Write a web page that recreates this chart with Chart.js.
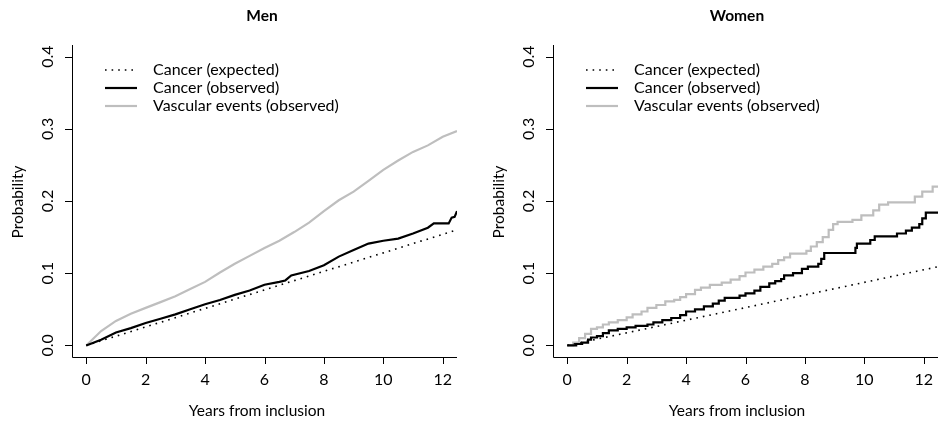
<!DOCTYPE html>
<html>
<head>
<meta charset="utf-8">
<script src="https://cdn.jsdelivr.net/npm/chart.js@4.4.1/dist/chart.umd.min.js"></script>
<style>
  html, body { margin: 0; padding: 0; background: #fff; }
  #wrap { position: relative; width: 938px; height: 421px; overflow: hidden; }
  .panel { position: absolute; top: 0; width: 481px; height: 421px; }
</style>
</head>
<body>
<div id="wrap">
  <div class="panel" style="left:0"><canvas id="men" width="481" height="421"></canvas></div>
  <div class="panel" style="left:481px"><canvas id="women" width="481" height="421"></canvas></div>
</div>
<script>
// ticks
const xTicks = [0, 2, 4, 6, 8, 10, 12];
const yTicks = [0, 0.1, 0.2, 0.3, 0.4];
const yTickLabels = ['0.0', '0.1', '0.2', '0.3', '0.4'];
const seriesNames = ['Cancer (expected)', 'Cancer (observed)', 'Vascular events (observed)'];

// men: [years, probability]
const menExpected = [[0, 0], [12.48, 0.160]];
const menCancer = [[0, 0], [0.5, 0.008], [1, 0.018], [1.5, 0.024], [2, 0.031], [2.5, 0.037], [3, 0.043],
  [3.5, 0.050], [4, 0.057], [4.5, 0.063], [5, 0.070], [5.5, 0.076], [6, 0.084], [6.5, 0.088], [6.7, 0.090],
  [6.9, 0.097], [7.5, 0.103], [8, 0.111], [8.5, 0.123], [9, 0.132], [9.5, 0.141], [10, 0.145], [10.5, 0.148],
  [11, 0.155], [11.5, 0.163], [11.7, 0.169], [12.2, 0.169], [12.3, 0.177], [12.4, 0.178], [12.48, 0.186]];
const menVascular = [[0, 0], [0.25, 0.010], [0.5, 0.020], [1, 0.034], [1.5, 0.044], [2, 0.052], [2.5, 0.060],
  [3, 0.068], [3.5, 0.078], [4, 0.088], [4.5, 0.101], [5, 0.113], [5.5, 0.124], [6, 0.135], [6.5, 0.145],
  [7, 0.157], [7.5, 0.170], [8, 0.186], [8.5, 0.201], [9, 0.213], [9.5, 0.228], [10, 0.243], [10.5, 0.256],
  [11, 0.268], [11.5, 0.277], [12, 0.289], [12.48, 0.297]];

// women
const womenExpected = [[0, 0], [12.48, 0.109]];
const womenCancer = [[0, 0], [0.3, 0.002], [0.5, 0.004], [0.7, 0.008], [0.8, 0.011], [1.0, 0.013], [1.2, 0.017],
  [1.4, 0.021], [1.7, 0.023], [2.0, 0.025], [2.3, 0.027], [2.7, 0.029], [2.9, 0.032], [3.2, 0.035], [3.5, 0.038],
  [3.8, 0.042], [4.0, 0.047], [4.3, 0.050], [4.6, 0.054], [4.9, 0.058], [5.1, 0.062], [5.3, 0.066], [5.8, 0.069],
  [6.0, 0.072], [6.3, 0.076], [6.5, 0.081], [6.8, 0.086], [7.0, 0.089], [7.2, 0.092], [7.3, 0.097], [7.6, 0.100],
  [7.9, 0.106], [8.1, 0.109], [8.45, 0.113], [8.55, 0.120], [8.65, 0.128], [9.7, 0.135], [9.75, 0.141],
  [10.2, 0.146], [10.35, 0.151], [11.1, 0.155], [11.4, 0.159], [11.6, 0.163], [11.85, 0.168], [11.95, 0.176],
  [12.07, 0.184], [12.48, 0.184]];
const womenVascular = [[0, 0], [0.2, 0.004], [0.4, 0.010], [0.6, 0.016], [0.8, 0.023], [1.0, 0.025], [1.2, 0.029],
  [1.4, 0.032], [1.7, 0.035], [2.0, 0.039], [2.2, 0.043], [2.5, 0.047], [2.7, 0.052], [3.0, 0.056], [3.3, 0.061],
  [3.6, 0.063], [3.8, 0.067], [4.0, 0.071], [4.3, 0.077], [4.5, 0.080], [4.8, 0.084], [5.2, 0.087], [5.5, 0.091],
  [5.8, 0.096], [6.0, 0.101], [6.3, 0.105], [6.6, 0.109], [6.9, 0.113], [7.1, 0.118], [7.3, 0.122], [7.5, 0.127],
  [8.05, 0.131], [8.2, 0.137], [8.4, 0.143], [8.6, 0.150], [8.8, 0.160], [8.95, 0.168], [9.1, 0.171], [9.6, 0.174],
  [9.9, 0.180], [10.3, 0.187], [10.5, 0.195], [10.8, 0.198], [11.7, 0.206], [11.95, 0.213], [12.3, 0.220],
  [12.48, 0.220]];

const FONT = 'Lato, "Open Sans", sans-serif';
const GREY = '#bebebe';

function pts(arr) { return arr.map(p => ({ x: p[0], y: p[1] })); }

// R-like axes, titles and legend
const rFrame = {
  id: 'rFrame',
  afterDraw(chart, args, opts) {
    const ctx = chart.ctx, a = chart.chartArea;
    const xs = chart.scales.x, ys = chart.scales.y;
    ctx.save();
    ctx.strokeStyle = '#000';
    ctx.lineWidth = 1;
    ctx.beginPath();
    ctx.moveTo(a.left + 0.5, a.top);
    ctx.lineTo(a.left + 0.5, a.bottom + 0.5);
    ctx.lineTo(a.right, a.bottom + 0.5);
    // ticks
    xTicks.forEach(v => {
      const px = Math.round(xs.getPixelForValue(v)) + 0.5;
      ctx.moveTo(px, a.bottom); ctx.lineTo(px, a.bottom + 7);
    });
    yTicks.forEach(v => {
      const py = Math.round(ys.getPixelForValue(v)) + 0.5;
      ctx.moveTo(a.left, py); ctx.lineTo(a.left - 7, py);
    });
    ctx.stroke();

    ctx.fillStyle = '#000';
    ctx.textAlign = 'center';
    ctx.textBaseline = 'middle';
    ctx.font = '16px ' + FONT;
    xTicks.forEach(v => ctx.fillText(String(v), xs.getPixelForValue(v), a.bottom + 23));
    yTicks.forEach((v, i) => {
      ctx.save();
      ctx.translate(a.left - 24, ys.getPixelForValue(v));
      ctx.rotate(-Math.PI / 2);
      ctx.fillText(yTickLabels[i], 0, 0);
      ctx.restore();
    });
    ctx.font = '15.5px ' + FONT;
    ctx.fillText('Years from inclusion', opts.labelX, 411);
    ctx.save();
    ctx.translate(18, 202);
    ctx.rotate(-Math.PI / 2);
    ctx.fillText('Probability', 0, 0);
    ctx.restore();

    ctx.font = 'bold 15.5px ' + FONT;
    ctx.fillText(opts.title, opts.titleX, 16);

    // legend
    ctx.font = '16px ' + FONT;
    ctx.textAlign = 'left';
    const rows = [70, 88, 106];
    chart.data.datasets.forEach((ds, i) => {
      ctx.save();
      ctx.strokeStyle = ds.borderColor;
      ctx.lineWidth = ds.borderWidth;
      ctx.setLineDash(ds.borderDash || []);
      ctx.beginPath();
      ctx.moveTo(105, rows[i]); ctx.lineTo(137, rows[i]);
      ctx.stroke();
      ctx.restore();
      ctx.fillText(seriesNames[i], 153, rows[i]);
    });
    ctx.restore();
  }
};

function makeChart(id, expected, cancer, vascular, stepped, title, titleX, labelX) {
  return new Chart(document.getElementById(id), {
    type: 'line',
    data: {
      datasets: [
        { data: pts(expected), borderColor: '#000', borderWidth: 1.6, borderDash: [1.6, 5], pointRadius: 0 },
        { data: pts(cancer), borderColor: '#000', borderWidth: 2.2, pointRadius: 0, stepped: stepped },
        { data: pts(vascular), borderColor: GREY, borderWidth: 2.2, pointRadius: 0, stepped: stepped }
      ]
    },
    options: {
      responsive: false,
      animation: false,
      layout: { padding: { left: 72, right: 24, top: 45, bottom: 64 } },
      scales: {
        x: { type: 'linear', min: -0.48, max: 12.48, display: false },
        y: { min: -0.016, max: 0.416, display: false }
      },
      plugins: {
        legend: { display: false },
        tooltip: { enabled: false },
        rFrame: { title: title, titleX: titleX, labelX: labelX }
      }
    },
    plugins: [rFrame]
  });
}

makeChart('men', menExpected, menCancer, menVascular, false, 'Men', 262, 257);
makeChart('women', womenExpected, womenCancer, womenVascular, true, 'Women', 256, 256);
</script>
</body>
</html>
